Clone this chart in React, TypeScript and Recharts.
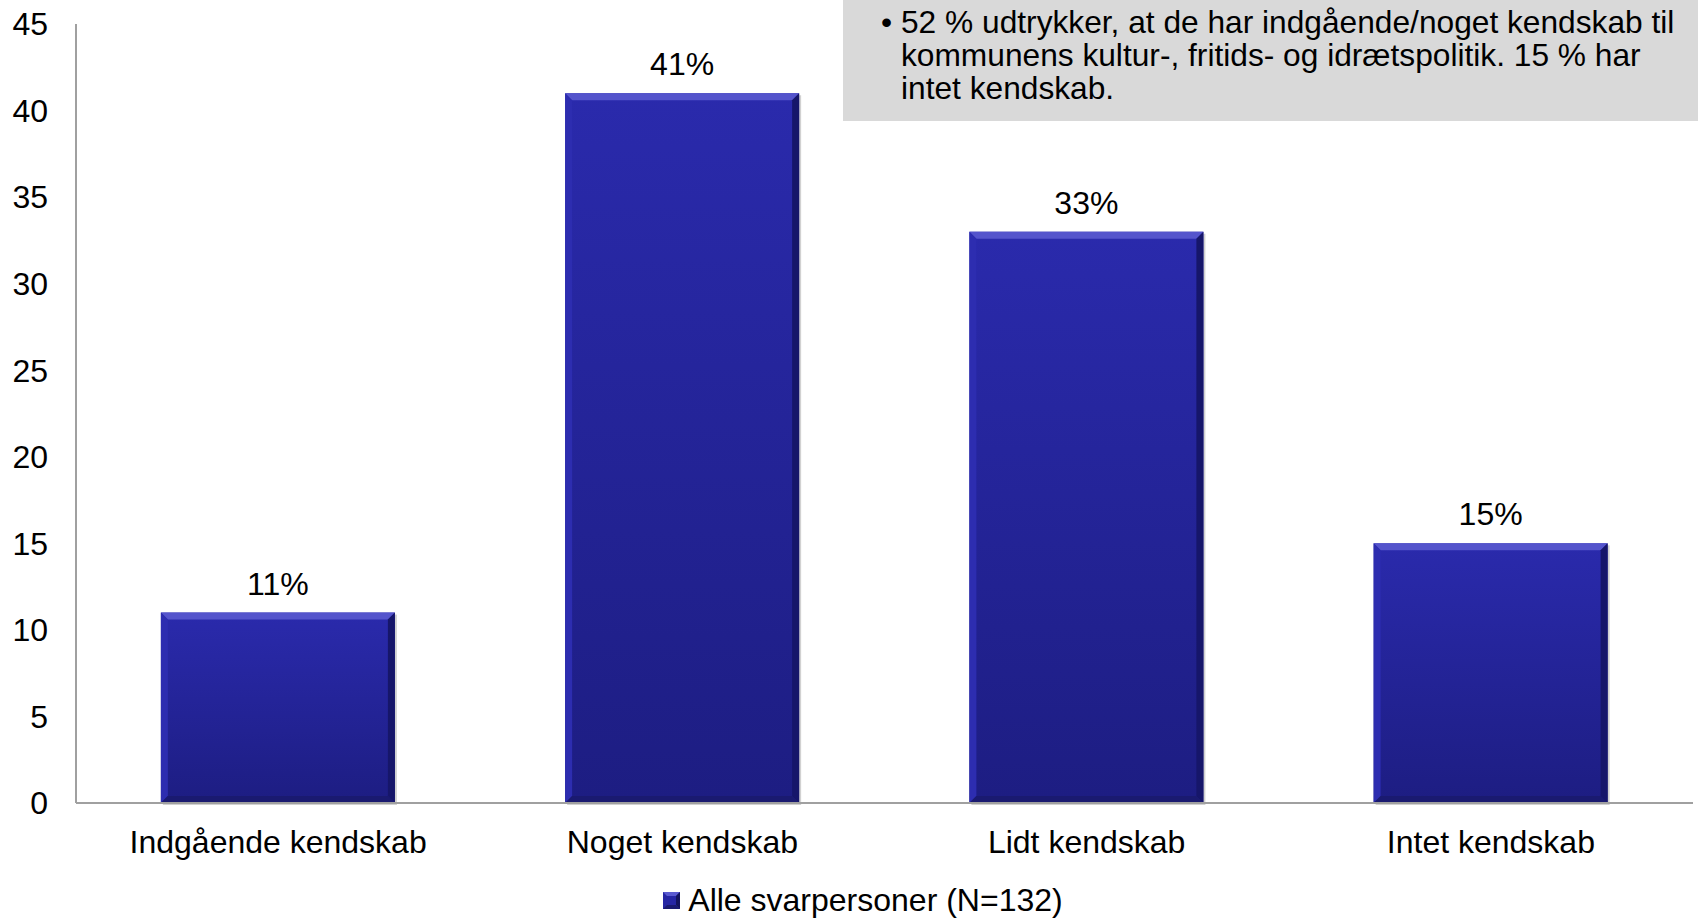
import { BarChart, Bar, XAxis, YAxis, LabelList, Legend } from 'recharts'

const categories = ['Indgående kendskab', 'Noget kendskab', 'Lidt kendskab', 'Intet kendskab']
const shares = [11, 41, 33, 15]
const yTicks = [0, 5, 10, 15, 20, 25, 30, 35, 40, 45]
const seriesName = 'Alle svarpersoner (N=132)'
const noteLines = [
  '52 % udtrykker, at de har indgående/noget kendskab til',
  'kommunens kultur-, fritids- og idrætspolitik. 15 % har',
  'intet kendskab.',
]

const data = categories.map((name, i) => ({ name, value: shares[i] }))

const FONT = '"Liberation Sans", Arial, sans-serif'

function BevelBar(props: any) {
  const { x, y, width, height } = props
  if (!height || height <= 0) return null
  const b = 7
  return (
    <g>
      <rect x={x + 2} y={y + 2} width={width} height={height} fill="#000" opacity={0.18} />
      <rect x={x} y={y} width={width} height={height} fill="url(#barGrad)" />
      <polygon
        points={`${x},${y} ${x + width},${y} ${x + width - b},${y + b} ${x + b},${y + b}`}
        fill="#5454cc"
      />
      <polygon
        points={`${x},${y} ${x + b},${y + b} ${x + b},${y + height - b} ${x},${y + height}`}
        fill="#2d2db0"
      />
      <polygon
        points={`${x + width},${y} ${x + width},${y + height} ${x + width - b},${y + height - b} ${x + width - b},${y + b}`}
        fill="#16166a"
      />
      <polygon
        points={`${x},${y + height} ${x + width},${y + height} ${x + width - b},${y + height - b} ${x + b},${y + height - b}`}
        fill="#1a1a70"
      />
    </g>
  )
}

function LegendContent() {
  return (
    <div style={{ display: 'flex', justifyContent: 'center', alignItems: 'center', fontFamily: FONT, fontSize: 32, color: '#000', paddingLeft: 28 }}>
      <svg width={17} height={17} style={{ marginRight: 8 }}>
        <rect x={0} y={0} width={17} height={17} fill="#2626a4" />
        <polygon points="0,0 17,0 13,4 4,4" fill="#5a5ad0" />
        <polygon points="17,0 17,17 13,13 13,4" fill="#14145e" />
        <polygon points="0,17 17,17 13,13 4,13" fill="#1a1a70" />
      </svg>
      <span>{seriesName}</span>
    </div>
  )
}

export default function App() {
  return (
    <div style={{ position: 'absolute', left: 0, top: 0, width: 1698, height: 918, background: '#fff' }}>
      <BarChart
        width={1698}
        height={918}
        data={data}
        margin={{ top: 24, right: 5, bottom: 0, left: 0 }}
        barCategoryGap="21%"
      >
        <defs>
          <linearGradient id="barGrad" x1="0" y1="0" x2="0" y2="1">
            <stop offset="0%" stopColor="#2a2aac" />
            <stop offset="100%" stopColor="#1d1d82" />
          </linearGradient>
        </defs>
        <XAxis
          dataKey="name"
          height={115}
          tickLine={false}
          tickMargin={21}
          axisLine={{ stroke: '#a0a0a0', strokeWidth: 2 }}
          tick={{ fontFamily: FONT, fontSize: 32, fill: '#000' }}
          interval={0}
        />
        <YAxis
          width={76}
          domain={[0, 45]}
          ticks={yTicks}
          tickLine={false}
          tickMargin={22}
          axisLine={{ stroke: '#a0a0a0', strokeWidth: 2 }}
          tick={{ fontFamily: FONT, fontSize: 32, fill: '#000' }}
        />
        <Legend
          layout="horizontal"
          verticalAlign="middle"
          align="center"
          content={<LegendContent />}
          wrapperStyle={{ top: 882, left: 0, width: 1698 }}
        />
        <Bar dataKey="value" name={seriesName} shape={<BevelBar />} isAnimationActive={false}>
          <LabelList
            dataKey="value"
            position="top"
            offset={18}
            formatter={(v: any) => `${v}%`}
            style={{ fontFamily: FONT, fontSize: 32, fill: '#000' }}
          />
        </Bar>
      </BarChart>
      <div
        style={{
          position: 'absolute',
          left: 843,
          top: 0,
          width: 855,
          height: 121,
          background: '#d9d9d9',
          fontFamily: FONT,
          fontSize: 31.7,
          lineHeight: '33px',
          color: '#000',
          boxSizing: 'border-box',
          paddingTop: 6,
        }}
      >
        <span style={{ position: 'absolute', left: 38, top: 6 }}>•</span>
        <div style={{ marginLeft: 58 }}>
          {noteLines.map((l, i) => (
            <div key={i} style={{ whiteSpace: 'nowrap' }}>{l}</div>
          ))}
        </div>
      </div>
    </div>
  )
}
